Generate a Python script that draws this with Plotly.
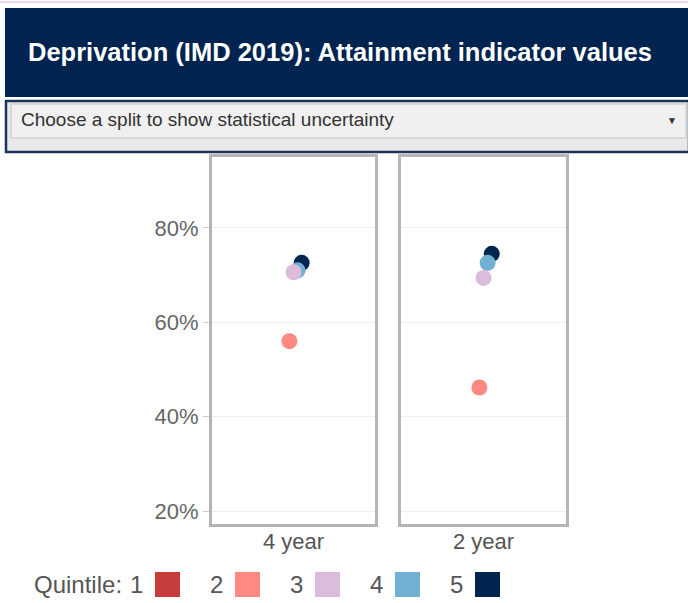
import plotly.graph_objects as go
from plotly.subplots import make_subplots

# ---------------- data ----------------
periods = ["4 year", "2 year"]
quintiles = ["1", "2", "3", "4", "5"]
quintile_colors = ["#c63d3b", "#ff8882", "#dcbcdc", "#71afd3", "#00254f"]
values_4yr = [None, 56.0, 70.6, 71.0, 72.6]
values_2yr = [None, 46.2, 69.4, 72.6, 74.5]
ytick_vals = [20, 40, 60, 80]
ytick_text = ["20%", "40%", "60%", "80%"]
title_text = "Deprivation (IMD 2019): Attainment indicator values"
dropdown_text = "Choose a split to show statistical uncertainty"
legend_title = "Quintile:"

W, H = 688, 603
FONT = "Arial, Liberation Sans, sans-serif"


def px(x):
    return x / W


def py(y):
    return 1 - y / H


fig = make_subplots(rows=1, cols=2, shared_yaxes=True, horizontal_spacing=0.03)

series = [values_4yr, values_2yr]
# draw quintile 5 first so lighter quintiles sit on top (reversed x-axis keeps 1 -> 5 left to right)
for qi in reversed(range(len(quintiles))):
    for ci, (period, vals) in enumerate(zip(periods, series)):
        fig.add_trace(
            go.Scatter(
                x=[period],
                y=[vals[qi]],
                mode="markers",
                marker=dict(color=quintile_colors[qi], size=16, line=dict(width=0)),
                offsetgroup="q" + quintiles[qi],
                name="Quintile " + quintiles[qi],
                showlegend=False,
                hovertemplate="Quintile " + quintiles[qi] + ": %{y:.1f}%<extra></extra>",
            ),
            row=1,
            col=ci + 1,
        )

border = "#b5b5b5"
xcommon = dict(
    type="category",
    range=[0.5, -0.5],
    showline=True,
    mirror=True,
    linecolor=border,
    linewidth=3,
    showgrid=False,
    zeroline=False,
    ticks="",
    ticklabelstandoff=-4,
    tickfont=dict(family=FONT, size=22, color="#555555"),
    fixedrange=True,
)
fig.update_layout(
    xaxis=dict(domain=[px(212), px(375)], **xcommon),
    xaxis2=dict(domain=[px(401), px(566)], **xcommon),
    yaxis=dict(
        domain=[py(524), py(157)],
        range=[17.3, 95],
        tickmode="array",
        tickvals=ytick_vals,
        ticktext=ytick_text,
        ticks="outside",
        ticklen=6,
        tickcolor="#cccccc",
        showline=True,
        mirror=True,
        linecolor=border,
        linewidth=3,
        showgrid=True,
        gridcolor="#efefef",
        gridwidth=1,
        zeroline=False,
        tickfont=dict(family=FONT, size=22, color="#666666"),
        fixedrange=True,
    ),
    yaxis2=dict(
        domain=[py(524), py(157)],
        range=[17.3, 95],
        tickmode="array",
        tickvals=ytick_vals,
        ticks="",
        showticklabels=False,
        showline=True,
        mirror=True,
        linecolor=border,
        linewidth=3,
        showgrid=True,
        gridcolor="#efefef",
        gridwidth=1,
        zeroline=False,
        fixedrange=True,
    ),
    scattermode="group",
    scattergap=0.875,
    width=W,
    height=H,
    margin=dict(l=0, r=0, t=0, b=0),
    paper_bgcolor="white",
    plot_bgcolor="white",
    showlegend=False,
)

shapes = []
annotations = []

# top thin line
shapes.append(dict(type="line", xref="paper", yref="paper", x0=0, x1=1, y0=py(2), y1=py(2),
                   line=dict(color="#e2cbe6", width=1.5)))
# header band
shapes.append(dict(type="rect", xref="paper", yref="paper", x0=px(5), x1=1, y0=py(97), y1=py(8),
                   fillcolor="#00244f", line=dict(width=0), layer="below"))
annotations.append(dict(xref="paper", yref="paper", x=px(26), y=py(52), xanchor="left", yanchor="middle",
                        text="<b>" + title_text + "</b>", showarrow=False,
                        font=dict(family=FONT, size=25.5, color="white")))
# dropdown container
shapes.append(dict(type="rect", xref="paper", yref="paper", x0=px(6), x1=px(689), y0=py(152), y1=py(101),
                   fillcolor="#e8e8e8", line=dict(color="#1c3358", width=2.5), layer="below"))
shapes.append(dict(type="rect", xref="paper", yref="paper", x0=px(11), x1=px(686), y0=py(138), y1=py(104),
                   fillcolor="#f0f0f0", line=dict(color="#c4c4c4", width=1), layer="below"))
annotations.append(dict(xref="paper", yref="paper", x=px(19), y=py(120), xanchor="left", yanchor="middle",
                        text=dropdown_text, showarrow=False,
                        font=dict(family=FONT, size=19, color="#333333")))
annotations.append(dict(xref="paper", yref="paper", x=px(672), y=py(121), xanchor="center", yanchor="middle",
                        text="▼", showarrow=False,
                        font=dict(family=FONT, size=10, color="#333333")))

# manual legend: label then swatch
annotations.append(dict(xref="paper", yref="paper", x=px(124), y=py(584), xanchor="right", yanchor="middle",
                        text=legend_title, showarrow=False,
                        font=dict(family=FONT, size=24, color="#555555")))
for i, (q, c) in enumerate(zip(quintiles, quintile_colors)):
    sx = 155 + 80 * i
    annotations.append(dict(xref="paper", yref="paper", x=px(sx - 10), y=py(584), xanchor="right",
                            yanchor="middle", text=q, showarrow=False,
                            font=dict(family=FONT, size=24, color="#555555")))
    shapes.append(dict(type="rect", xref="paper", yref="paper", x0=px(sx), x1=px(sx + 25),
                       y0=py(597), y1=py(572), fillcolor=c, line=dict(width=0)))

fig.update_layout(shapes=shapes, annotations=annotations)

fig.write_html(
    "out.html",
    config={"displayModeBar": False},
    post_script="document.body.style.margin='0';document.body.style.overflow='hidden';",
)
